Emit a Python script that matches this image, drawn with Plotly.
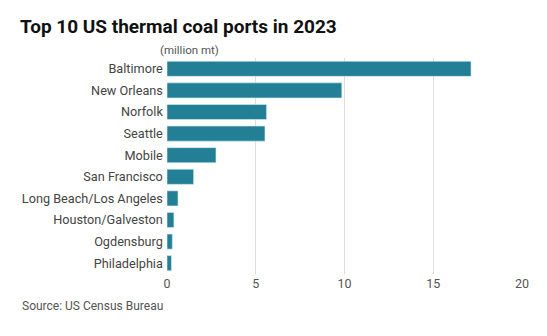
import plotly.graph_objects as go

ports = ["Baltimore", "New Orleans", "Norfolk", "Seattle", "Mobile", "San Francisco",
         "Long Beach/Los Angeles", "Houston/Galveston", "Ogdensburg", "Philadelphia"]
volumes = [17.13, 9.85, 5.61, 5.52, 2.76, 1.50, 0.62, 0.39, 0.30, 0.25]
x_ticks = [0, 5, 10, 15, 20]

FONT = "Roboto"

fig = go.Figure(go.Bar(
    x=volumes, y=ports, orientation="h",
    marker=dict(color="#237f96", line=dict(color="#d9eef3", width=0.6)),
    width=0.7,
))

fig.update_layout(
    width=547, height=336,
    margin=dict(l=167, r=25, t=58, b=62),
    plot_bgcolor="white", paper_bgcolor="white",
    font=dict(family=FONT, size=12, color="#444444"),
    showlegend=False,
    xaxis=dict(range=[0, 20], tickvals=x_ticks, showgrid=True, gridcolor="#dedede",
               gridwidth=1, zeroline=False, showline=False, ticks="",
               tickfont=dict(size=12.5, color="#555555")),
    yaxis=dict(categoryorder="array", categoryarray=ports, autorange="reversed",
               showgrid=False, zeroline=False, showline=False, ticks="",
               ticksuffix=" ", tickfont=dict(size=12.7, color="#444444")),
    annotations=[
        dict(text="<b>Top 10 US thermal coal ports in 2023</b>", xref="paper", yref="paper",
             x=-149/355, y=1 + 32/216, xanchor="left", yanchor="middle", showarrow=False,
             font=dict(family=FONT, size=19, color="#111111")),
        dict(text="(million mt)", xref="paper", yref="paper", x=-9/355, y=1 + 8/216,
             xanchor="left", yanchor="middle", showarrow=False,
             font=dict(family=FONT, size=11.5, color="#555555")),
        dict(text="Source: US Census Bureau", xref="paper", yref="paper", x=-147/355,
             y=-32/216, xanchor="left", yanchor="middle", showarrow=False,
             font=dict(family=FONT, size=12, color="#555555")),
    ],
)

fig.write_html("out.html")
